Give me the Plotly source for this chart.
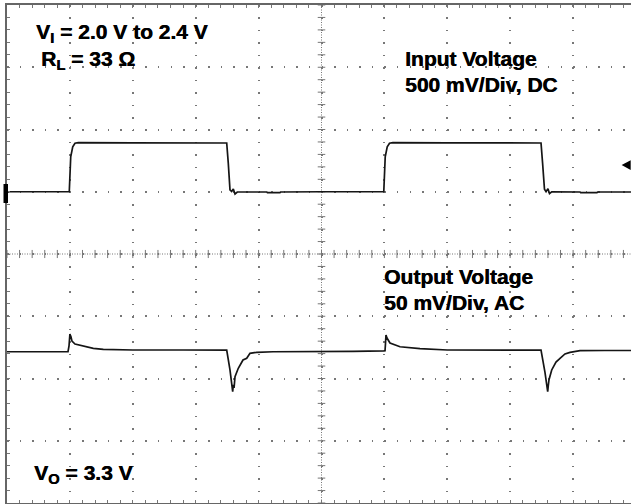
import plotly.graph_objects as go

# ---- data (x and y in scope divisions; screen centre = (5, 0)) ----
input_x = [0.0, 0.50, 0.99, 1.013, 1.045, 1.081, 1.134, 2.0, 3.0, 3.493, 3.518, 3.534, 3.545,
           3.572, 3.598, 3.625, 3.661, 4.13, 4.14, 4.34, 4.35, 5.0, 5.99, 6.013, 6.045, 6.081,
           6.134, 7.0, 8.0, 8.49, 8.515, 8.53, 8.545, 8.57, 8.60, 8.625, 8.66, 9.11, 9.12, 9.38,
           9.39, 9.92]
input_y = [1.0, 1.0, 1.0, 1.56, 1.72, 1.78, 1.79, 1.785, 1.785, 1.783, 1.46, 1.14, 1.032,
           1.004, 1.043, 0.964, 0.996, 0.996, 0.985, 0.985, 0.996, 1.0, 1.0, 1.56, 1.72, 1.78,
           1.79, 1.785, 1.785, 1.783, 1.46, 1.14, 1.04, 1.0, 1.05, 0.97, 0.998, 0.996, 0.985,
           0.985, 0.996, 0.996]

output_x = [0.0, 0.5, 0.97, 0.986, 1.0, 1.017, 1.033, 1.081, 1.213, 1.372, 1.531, 2.0, 2.8,
            3.434, 3.493, 3.545, 3.572, 3.588, 3.598, 3.61, 3.625, 3.652, 3.677, 3.752, 3.811,
            3.863, 3.97, 4.23, 4.5, 5.0, 5.5, 5.99, 6.01, 6.018, 6.025, 6.041, 6.089, 6.248,
            6.566, 7.0, 7.8, 8.474, 8.49, 8.553, 8.585, 8.596, 8.605, 8.617, 8.66, 8.728,
            8.792, 8.871, 8.951, 9.11, 9.5, 9.92]
output_y = [-1.57, -1.565, -1.57, -1.477, -1.285, -1.33, -1.40, -1.446, -1.478, -1.515, -1.531,
            -1.542, -1.542, -1.542, -1.545, -1.863, -2.13, -2.212, -2.10, -2.15, -1.97, -1.89,
            -1.836, -1.703, -1.676, -1.595, -1.58, -1.57, -1.57, -1.575, -1.565, -1.555, -1.553,
            -1.43, -1.30, -1.35, -1.43, -1.49, -1.52, -1.542, -1.545, -1.542, -1.545, -1.90,
            -2.15, -2.212, -2.12, -2.02, -1.863, -1.735, -1.676, -1.606, -1.58, -1.553, -1.55,
            -1.55]

label_texts = ["V<sub>I</sub> = 2.0 V to 2.4 V", "R<sub>L</sub> = 33 Ω",
               "Input Voltage", "500 mV/Div, DC",
               "Output Voltage", "50 mV/Div, AC",
               "V<sub>O</sub> = 3.3 V"]

# ---- layout helpers ----
label_pos = [(0.43, 3.545), (0.51, 3.12), (6.30, 3.143), (6.30, 2.731),
             (5.96, -0.364), (5.965, -0.784), (0.39, -3.539)]

X_MAX = 9.9205
GRID = "#777777"
FONT = "Liberation Sans, Arial, sans-serif"

fig = go.Figure()

# centre-line tick marks (graticule decoration)
tx, ty = [], []
for i in range(0, 50):
    x = i * 0.2
    if x <= X_MAX:
        tx += [x, x, None]
        ty += [-0.065, 0.065, None]
for i in range(-20, 21):
    y = i * 0.2
    tx += [5 - 0.06, 5 + 0.06, None]
    ty += [y, y, None]
fig.add_trace(go.Scatter(x=tx, y=ty, mode="lines", line=dict(color=GRID, width=1),
                         hoverinfo="skip", showlegend=False))

fig.add_trace(go.Scatter(x=input_x, y=input_y, mode="lines", name="Input Voltage",
                         line=dict(color="#151515", width=1.7), showlegend=False))
fig.add_trace(go.Scatter(x=output_x, y=output_y, mode="lines", name="Output Voltage",
                         line=dict(color="#151515", width=1.7), showlegend=False))

shapes = [
    dict(type="line", xref="x", yref="y", x0=0, x1=X_MAX, y0=0, y1=0,
         line=dict(color=GRID, width=1, dash="1px,1.5px"), layer="below"),
    dict(type="line", xref="x", yref="y", x0=5, x1=5, y0=-4, y1=4,
         line=dict(color=GRID, width=1, dash="1px,1.5px"), layer="below"),
    # channel marker at left
    dict(type="rect", xref="paper", yref="paper", x0=-0.0056, x1=0.0016, y0=0.6024, y1=0.6406,
         fillcolor="black", line=dict(width=0)),
    # trigger marker at right
    dict(type="path", xref="paper", yref="paper",
         path="M 0.9850 0.6787 L 0.9995 0.6885 L 0.9995 0.6689 Z",
         fillcolor="black", line=dict(width=0)),
]

annotations = []
for t, (x, y) in zip(label_texts, label_pos):
    annotations.append(dict(text="<b>" + t + "</b>", x=x, y=y, xref="x", yref="y",
                            xanchor="left", yanchor="middle", showarrow=False,
                            font=dict(family=FONT, size=21, color="black", weight=700,
                                      shadow="0.5px 0px 0px #000")))

fig.update_layout(
    width=631, height=504,
    margin=dict(l=7, r=0, t=5, b=1),
    paper_bgcolor="white", plot_bgcolor="white",
    shapes=shapes, annotations=annotations,
    xaxis=dict(range=[0, X_MAX], dtick=1, tick0=0, showticklabels=False,
               showgrid=True, gridcolor=GRID, gridwidth=1.5, griddash="1.5px,10.95px",
               zeroline=False, showline=True, linecolor="#666666", linewidth=2,
               mirror="ticks", ticks="inside", ticklen=3, tickcolor=GRID,
               minor=dict(dtick=0.2, ticks="inside", ticklen=3, tickcolor=GRID, showgrid=False),
               fixedrange=True),
    yaxis=dict(range=[-4, 4], dtick=1, tick0=0, showticklabels=False,
               showgrid=True, gridcolor=GRID, gridwidth=1.5, griddash="1.5px,11.08px",
               zeroline=False, showline=True, linecolor="#666666", linewidth=2,
               mirror=False, ticks="inside", ticklen=3, tickcolor=GRID,
               minor=dict(dtick=0.2, ticks="inside", ticklen=3, tickcolor=GRID, showgrid=False),
               fixedrange=True),
)

fig.write_html("out.html", config={"displayModeBar": False},
               post_script="document.body.style.margin='0px';document.body.style.overflow='hidden';")
